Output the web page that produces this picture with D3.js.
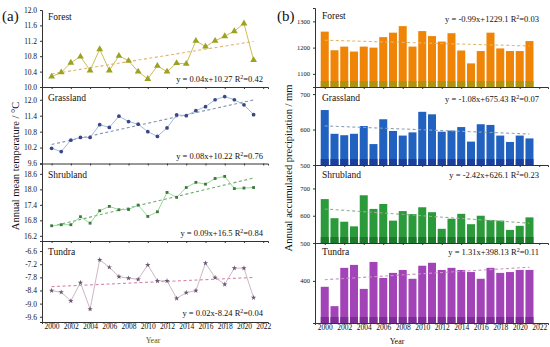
<!DOCTYPE html>
<html>
<head>
<meta charset="utf-8">
<script src="https://cdn.jsdelivr.net/npm/d3@7"></script>
<style>
  body { margin: 0; background: #fff; }
  text { font-family: "Liberation Serif", "Times New Roman", serif; }
</style>
</head>
<body>
<script>
// ---- data ----
const years = [2000,2001,2002,2003,2004,2005,2006,2007,2008,2009,2010,
               2011,2012,2013,2014,2015,2016,2017,2018,2019,2020,2021];
const yearTicks = [2000,2002,2004,2006,2008,2010,2012,2014,2016,2018,2020,2022];

// annual mean temperature (°C)
const forestTemp = [10.27,10.38,10.63,10.79,10.43,10.98,10.43,10.81,10.68,10.40,10.21,
                    10.55,10.40,10.62,10.60,11.20,11.05,11.20,11.32,11.45,11.65,10.70];
const grassTemp  = [10.17,10.05,10.48,10.58,10.58,11.06,10.96,11.38,11.18,11.08,10.80,
                    10.62,10.94,11.43,11.40,11.59,11.74,12.00,12.12,12.00,11.81,11.44];
const shrubTemp  = [16.59,16.63,16.63,16.94,16.69,17.17,17.34,17.21,17.22,17.39,16.95,
                    17.13,17.88,17.69,18.07,18.27,18.20,18.42,18.50,18.03,18.05,18.07];
const tundraTemp = [-8.41,-8.48,-8.88,-8.04,-9.25,-7.00,-7.34,-7.77,-7.84,-7.89,-7.23,
                    -7.96,-7.96,-8.76,-8.50,-8.41,-7.15,-7.81,-8.12,-7.38,-7.38,-8.73];

// annual accumulated precipitation (mm)
const forestPre = [1261,1190,1204,1185,1204,1200,1240,1257,1282,1204,1263,
                   1244,1223,1255,1189,1140,1187,1257,1197,1187,1187,1225];
const grassPre  = [655,588,584,588,610,559,629,596,583,592,650,
                   643,594,597,607,566,615,613,583,565,583,575];
const shrubPre  = [661,591,578,561,675,625,643,582,617,606,631,
                   613,552,589,607,569,600,584,582,548,563,594];
const tundraPre = [386,340,431,438,381,445,407,419,426,405,436,
                   443,426,431,426,421,405,431,419,421,426,426];

const forestTempTicks = [10.0,10.4,10.8,11.2,11.6,12.0];
const grassTempTicks  = [9.6,10.2,10.8,11.4,12.0];
const shrubTempTicks  = [16.2,16.8,17.4,18.0,18.6];
const tundraTempTicks = [-9.6,-9.0,-8.4,-7.8,-7.2,-6.6];
const forestPreTicks = [1100,1200,1300];
const grassPreTicks  = [500,600,700];
const shrubPreTicks  = [500,600,700];
const tundraPreTicks = [400];

const names = ['Forest','Grassland','Shrubland','Tundra'];
const tempEq = [['y = 0.04x+10.27','0.42'],['y = 0.08x+10.22','0.76'],
                ['y = 0.09x+16.5','0.84'],['y = 0.02x-8.24','0.04']];
const preEq  = [['y = -0.99x+1229.1','0.03'],['y = -1.08x+675.43','0.07'],
                ['y = -2.42x+626.1','0.23'],['y = 1.31x+398.13','0.11']];

// ---- helpers ----
function fit(xs, ys) {
  const mx = d3.mean(xs), my = d3.mean(ys);
  const b = d3.sum(xs, (x,i) => (x-mx)*(ys[i]-my)) / d3.sum(xs, x => (x-mx)*(x-mx));
  return x => my + b*(x-mx);
}

const svg = d3.select('body').append('svg')
              .attr('width',550)
              .attr('height',347);

function eqText(x, y, eq) {
  const t = svg.append('text').attr('x',x).attr('y',y).attr('text-anchor','end')
               .style('font-size','8.5px').style('fill','#111');
  t.append('tspan').text(eq[0] + '  R');
  t.append('tspan').attr('dy',-3).style('font-size','6px').text('2');
  t.append('tspan').attr('dy',3).text('=' + eq[1]);
}

// ---- (a) temperature ----
const xL = d3.scaleLinear().domain([1999,2022.5]).range([42,268]);
const tempPanels = [
  {vals: forestTemp, dom: [10.0,12.0],    rng: [87,10],    ticks: forestTempTicks,
   line:'#d2bc55', mark:'#9aa21e', trend:'#e6b070', sym:d3.symbolTriangle, size:20},
  {vals: grassTemp,  dom: [9.6,12.48],    rng: [163.5,87], ticks: grassTempTicks,
   line:'#9fbcdc', mark:'#3b4688', trend:'#8192b4', sym:d3.symbolCircle, size:11},
  {vals: shrubTemp,  dom: [16.0,19.0],    rng: [241,163.5],ticks: shrubTempTicks,
   line:'#9ad89a', mark:'#3d7a3a', trend:'#6eaa6e', sym:d3.symbolSquare, size:8},
  {vals: tundraTemp, dom: [-9.84,-6.14],  rng: [322,241],  ticks: tundraTempTicks,
   line:'#cdb8c6', mark:'#6a5872', trend:'#d888aa', sym:d3.symbolStar, size:9}
];
const titleY = [20,101,178,255];
const tempEqY = [82,159,236,316];

tempPanels.forEach((p,k) => {
  const y = d3.scaleLinear().domain(p.dom).range(p.rng);
  const g = svg.append('g');
  const bottom = p.rng[0];

  const xa = d3.axisBottom(xL).tickValues(yearTicks).tickSize(2)
               .tickFormat(k === 3 ? d3.format('d') : '');
  const gx = g.append('g').attr('transform','translate(0,' + bottom + ')').call(xa);
  gx.selectAll('text').style('font-size','7.5px').style('fill','#111').attr('y',2).attr('dy','0.71em');

  const ya = d3.axisLeft(y).tickValues(p.ticks).tickSize(2).tickFormat(d => d.toFixed(1));
  const gy = g.append('g').attr('transform','translate(42,0)').call(ya);
  gy.selectAll('text').style('font-size','7.5px').style('fill','#111');
  g.selectAll('.domain').style('stroke','#333');
  g.selectAll('.tick line').style('stroke','#333');

  const tr = fit(years, p.vals);
  g.append('line')
   .attr('x1',xL(years[0])).attr('x2',xL(years[years.length-1]))
   .attr('y1',y(tr(years[0]))).attr('y2',y(tr(years[years.length-1])))
   .style('stroke',p.trend).style('stroke-width',1.1).style('stroke-dasharray','3,2.5');

  g.append('path').datum(p.vals)
   .attr('d', d3.line().x((d,i) => xL(years[i])).y(d => y(d)))
   .style('fill','none').style('stroke',p.line).style('stroke-width',1);

  g.selectAll('.pt').data(p.vals).enter().append('path')
   .attr('transform',(d,i) => 'translate(' + xL(years[i]) + ',' + y(d) + ')')
   .attr('d', d3.symbol().type(p.sym).size(p.size))
   .style('fill',p.mark);

  svg.append('text').attr('x',48).attr('y',titleY[k]).text(names[k])
     .style('font-size','9.5px').style('fill','#111');
  eqText(263, tempEqY[k], tempEq[k]);
});

svg.append('text').attr('x',2).attr('y',21).text('(a)').style('font-size','15px').style('fill','#111');
svg.append('text').attr('transform','translate(19,166) rotate(-90)').attr('text-anchor','middle')
   .text('Annual mean temperature / °C').style('font-size','10.5px').style('fill','#111');
svg.append('text').attr('x',153).attr('y',343).attr('text-anchor','middle')
   .text('Year').style('font-size','8px').style('fill','#4a5e1a');

// ---- (b) precipitation ----
const xR = d3.scaleLinear().domain([1999,2022.9]).range([315,548]);
const barW = 8;
const prePanels = [
  {vals: forestPre, dom: [1050,1351], rng: [87,8],     ticks: forestPreTicks,
   fill:'#f08406', base:'#ad9410', trend:'#e2b868'},
  {vals: grassPre,  dom: [500,720],   rng: [165,87],   ticks: grassPreTicks,
   fill:'#2162c0', base:'#1c3f9c', trend:'#8aa2b8'},
  {vals: shrubPre,  dom: [500,786],   rng: [243,165],  ticks: shrubPreTicks,
   fill:'#2b9a3b', base:'#1d7a2c', trend:'#93ab93'},
  {vals: tundraPre, dom: [300,490],   rng: [323,243],  ticks: tundraPreTicks,
   fill:'#a244b8', base:'#7c2e94', trend:'#c994c4'}
];
const preTitleY = [19,101,178,255];
const preEqY = [22,102,178,255];

prePanels.forEach((p,k) => {
  const y = d3.scaleLinear().domain(p.dom).range(p.rng);
  const g = svg.append('g');
  const bottom = p.rng[0];

  g.selectAll('.bar').data(p.vals).enter().append('rect')
   .attr('x',(d,i) => xR(years[i]) - barW/2).attr('width',barW)
   .attr('y',d => y(d)).attr('height',d => bottom - y(d))
   .style('fill',p.fill);
  g.selectAll('.barbase').data(p.vals).enter().append('rect')
   .attr('x',(d,i) => xR(years[i]) - barW/2).attr('width',barW)
   .attr('y',d => Math.max(y(d), bottom - 6)).attr('height',d => bottom - Math.max(y(d), bottom - 6))
   .style('fill',p.base);

  const tr = fit(years, p.vals);
  g.append('line')
   .attr('x1',xR(years[0])).attr('x2',xR(years[years.length-1]))
   .attr('y1',y(tr(years[0]))).attr('y2',y(tr(years[years.length-1])))
   .style('stroke',p.trend).style('stroke-width',1.1).style('stroke-dasharray','3,2.5');

  const xa = d3.axisBottom(xR).tickValues(yearTicks).tickSize(2)
               .tickFormat(k === 3 ? d3.format('d') : '');
  const gx = g.append('g').attr('transform','translate(0,' + bottom + ')').call(xa);
  gx.selectAll('text').style('font-size','7.5px').style('fill','#111').attr('y',2).attr('dy','0.71em');

  const ya = d3.axisLeft(y).tickValues(p.ticks).tickSize(2).tickFormat(d3.format('d'));
  const gy = g.append('g').attr('transform','translate(315,0)').call(ya);
  gy.selectAll('text').style('font-size','6.5px').style('fill','#111');
  g.selectAll('.domain').style('stroke','#333');
  g.selectAll('.tick line').style('stroke','#333');

  svg.append('text').attr('x',322).attr('y',preTitleY[k]).text(names[k])
     .style('font-size','9.5px').style('fill','#111');
  eqText(539, preEqY[k], preEq[k]);
});

svg.append('text').attr('x',277).attr('y',21).text('(b)').style('font-size','15px').style('fill','#111');
svg.append('text').attr('transform','translate(292,168) rotate(-90)').attr('text-anchor','middle')
   .text('Annual accumulated precipitation / mm').style('font-size','10.5px').style('fill','#111');
svg.append('text').attr('x',397).attr('y',344).attr('text-anchor','middle')
   .text('Year').style('font-size','8px').style('fill','#111');
</script>
</body>
</html>
